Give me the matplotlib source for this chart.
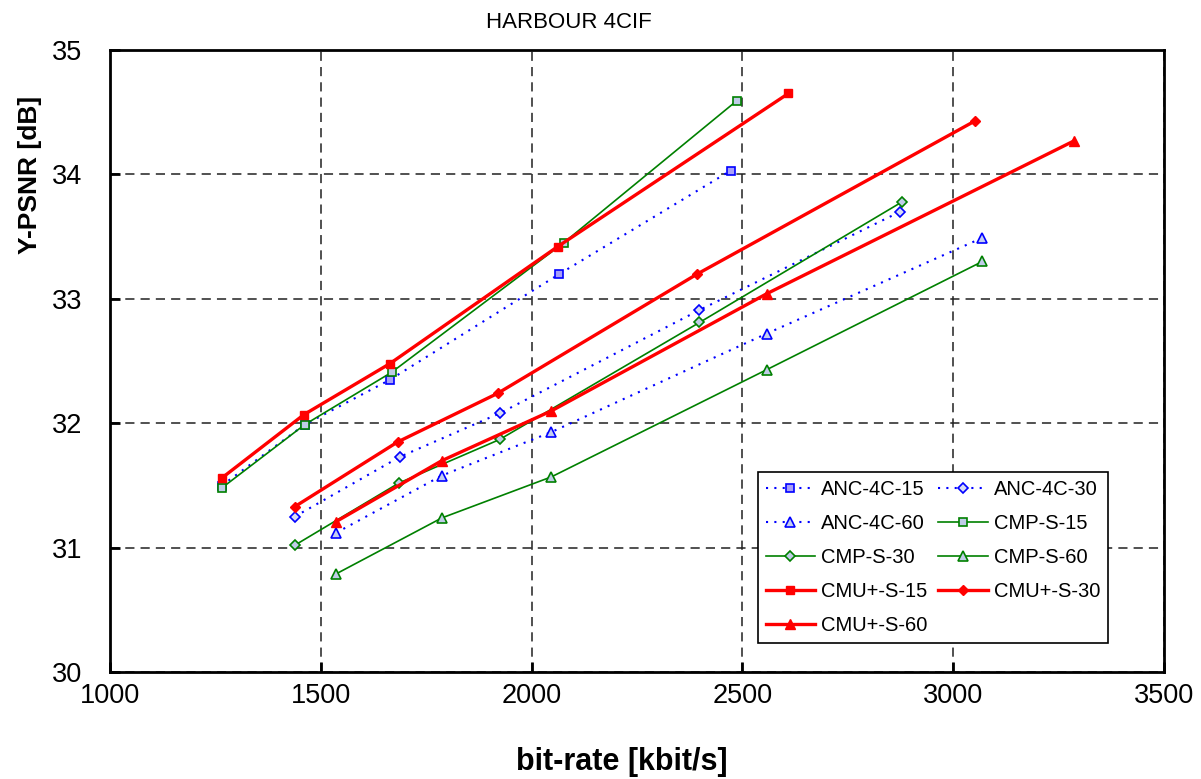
import numpy as np
import matplotlib
matplotlib.use("Agg")
import matplotlib.pyplot as plt

plt.rcParams["font.family"] = ["Liberation Sans", "DejaVu Sans"]

# rate points (kbit/s) and Y-PSNR (dB) per coder / GOP setting
anc15_rate = [1265, 1462, 1664, 2066, 2472]
anc15_psnr = [31.50, 31.99, 32.35, 33.20, 34.03]
anc30_rate = [1438, 1687, 1924, 2398, 2874]
anc30_psnr = [31.25, 31.73, 32.08, 32.91, 33.70]
anc60_rate = [1536, 1787, 2047, 2557, 3069]
anc60_psnr = [31.12, 31.58, 31.93, 32.72, 33.49]

cmp15_rate = [1265, 1462, 1668, 2076, 2486]
cmp15_psnr = [31.48, 31.99, 32.41, 33.45, 34.59]
cmp30_rate = [1438, 1685, 1924, 2398, 2879]
cmp30_psnr = [31.02, 31.52, 31.87, 32.81, 33.78]
cmp60_rate = [1536, 1787, 2047, 2557, 3069]
cmp60_psnr = [30.79, 31.24, 31.57, 32.43, 33.30]

cmu15_rate = [1265, 1460, 1664, 2062, 2609]
cmu15_psnr = [31.56, 32.07, 32.48, 33.42, 34.65]
cmu30_rate = [1438, 1682, 1919, 2393, 3052]
cmu30_psnr = [31.33, 31.85, 32.24, 33.20, 34.43]
cmu60_rate = [1536, 1787, 2047, 2557, 3287]
cmu60_psnr = [31.21, 31.70, 32.10, 33.04, 34.27]

labels = ["ANC-4C-15", "ANC-4C-30", "ANC-4C-60",
          "CMP-S-15", "CMP-S-30", "CMP-S-60",
          "CMU+-S-15", "CMU+-S-30", "CMU+-S-60"]

fig = plt.figure(figsize=(12.01, 7.79), dpi=100)
ax = fig.add_axes([0.0916, 0.137, 0.8777, 0.799])

blue = "#0000ff"
green = "#008000"
red = "#ff0000"
dotted = (0, (1, 3))

h = []
h += ax.plot(anc15_rate, anc15_psnr, color=blue, ls=dotted, lw=1.5, marker="s", ms=5.5,
             mfc="#a8a0f8", mec=blue, mew=1.2)
h += ax.plot(anc30_rate, anc30_psnr, color=blue, ls=dotted, lw=1.5, marker="D", ms=5,
             mfc="#d8dcf4", mec=blue, mew=1.2)
h += ax.plot(anc60_rate, anc60_psnr, color=blue, ls=dotted, lw=1.5, marker="^", ms=7,
             mfc="#c4cef0", mec=blue, mew=1.2)
h += ax.plot(cmp15_rate, cmp15_psnr, color=green, lw=1.2, marker="s", ms=5.5,
             mfc="#c0cce8", mec=green, mew=1.2)
h += ax.plot(cmp30_rate, cmp30_psnr, color=green, lw=1.2, marker="D", ms=5,
             mfc="#c0cce8", mec=green, mew=1.2)
h += ax.plot(cmp60_rate, cmp60_psnr, color=green, lw=1.2, marker="^", ms=7,
             mfc="#c0cce8", mec=green, mew=1.2)
h += ax.plot(cmu15_rate, cmu15_psnr, color=red, lw=2.4, marker="s", ms=6,
             mfc=red, mec=red)
h += ax.plot(cmu30_rate, cmu30_psnr, color=red, lw=2.4, marker="D", ms=5.5,
             mfc=red, mec=red)
h += ax.plot(cmu60_rate, cmu60_psnr, color=red, lw=2.4, marker="^", ms=7.5,
             mfc=red, mec=red)

ax.set_xlim(1000, 3500)
ax.set_ylim(30, 35)
ax.set_xticks(np.arange(1000, 3501, 500))
ax.set_yticks(np.arange(30, 36, 1))
ax.grid(True, color="#202020", ls=(0, (6, 4)), lw=1.1)
ax.set_axisbelow(True)
for s in ax.spines.values():
    s.set_linewidth(2.0)
ax.tick_params(direction="in", length=7, width=2, labelsize=19.5)
ax.tick_params(axis="x", pad=8)
ax.tick_params(axis="y", pad=20)

fig.text(569 / 1201, 1 - 22 / 779, "HARBOUR 4CIF", fontsize=16,
         ha="center", va="center")
fig.text(622 / 1201, 1 - 762 / 779, "bit-rate [kbit/s]", fontsize=22,
         fontweight="bold", ha="center", va="center")
fig.text(30 / 1201, 1 - 175 / 779, "Y-PSNR [dB]", fontsize=19,
         fontweight="bold", ha="center", va="center", rotation=90)

# two columns filled row by row
order = [0, 2, 4, 6, 8, 1, 3, 5, 7]
leg = ax.legend([h[i] for i in order], [labels[i] for i in order], ncol=2,
                loc="lower right", bbox_to_anchor=(0.947, 0.047), borderaxespad=0,
                fontsize=14.5, frameon=True, fancybox=False, edgecolor="black",
                framealpha=1, handlelength=2.45, columnspacing=0.55,
                labelspacing=0.74, handletextpad=0.3, borderpad=0.4)
leg.get_frame().set_linewidth(1.2)

fig.savefig("out.png", dpi=100)
